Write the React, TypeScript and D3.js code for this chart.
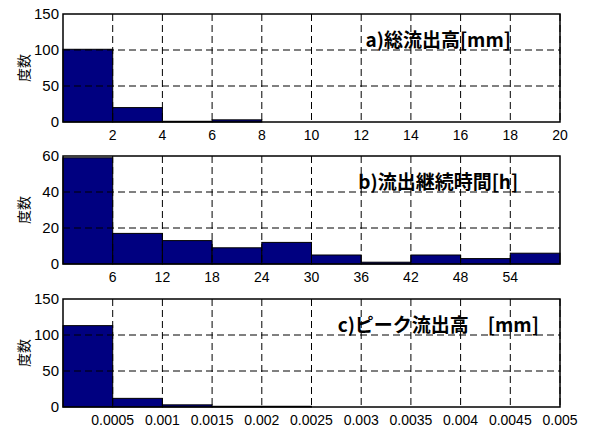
import React from "react";
import * as d3 from "d3";

// histogram counts, 10 bins each
const countsA = [101, 20, 1, 3, 0, 0, 0, 0, 0, 0];
const countsB = [59, 17, 13, 9, 12, 5, 1, 5, 3, 6];
const countsC = [113, 12, 3, 1, 1, 0, 0, 0, 0, 0];

const xTicksA = [2, 4, 6, 8, 10, 12, 14, 16, 18, 20];
const xTicksB = [6, 12, 18, 24, 30, 36, 42, 48, 54];
const xTicksC = [0.0005, 0.001, 0.0015, 0.002, 0.0025, 0.003, 0.0035, 0.004, 0.0045, 0.005];

const yTicksA = [0, 50, 100, 150];
const yTicksB = [0, 20, 40, 60];
const yTicksC = [0, 50, 100, 150];

const titleA = "a)総流出高[mm]";
const titleB = "b)流出継続時間[h]";
const titleC = "c)ピーク流出高　[mm]";
const yLabel = "度数";

const W = 592;
const H = 430;
const left = 63;
const right = 560;
const panelH = 108;

const tickFont = "'Liberation Sans', Arial, sans-serif";
const cjkFont = "'Noto Sans CJK JP', sans-serif";

type PanelProps = {
  top: number;
  counts: number[];
  binWidth: number;
  xMax: number;
  xTicks: number[];
  yTicks: number[];
  title: string;
};

const Panel = ({ top, counts, binWidth, xMax, xTicks, yTicks, title }: PanelProps) => {
  const x = d3.scaleLinear().domain([0, xMax]).range([left, right]);
  const y = d3
    .scaleLinear()
    .domain([0, yTicks[yTicks.length - 1]])
    .range([top + panelH, top]);
  const bottom = top + panelH;

  return (
    <g>
      {/* bars */}
      {counts.map((c, i) =>
        c > 0 ? (
          <rect
            key={i}
            x={x(i * binWidth)}
            y={y(c)}
            width={x((i + 1) * binWidth) - x(i * binWidth)}
            height={bottom - y(c)}
            fill="#000080"
            stroke="#000"
            strokeWidth={1}
          />
        ) : null
      )}
      {/* grid */}
      {xTicks.map((t) => (
        <line
          key={"gx" + t}
          x1={x(t)}
          x2={x(t)}
          y1={top}
          y2={bottom}
          stroke="#000"
          strokeWidth={1}
          strokeDasharray="7,4"
        />
      ))}
      {yTicks.slice(1, -1).map((t) => (
        <line
          key={"gy" + t}
          x1={left}
          x2={right}
          y1={y(t)}
          y2={y(t)}
          stroke="#000"
          strokeWidth={1}
          strokeDasharray="7,4"
        />
      ))}
      <rect x={left} y={top} width={right - left} height={panelH} fill="none" stroke="#000" strokeWidth={1.5} />
      {/* tick labels */}
      {xTicks.map((t) => (
        <text
          key={"tx" + t}
          x={x(t)}
          y={bottom + 18}
          textAnchor="middle"
          fontFamily={tickFont}
          fontSize={14}
        >
          {String(t)}
        </text>
      ))}
      {yTicks.map((t) => (
        <text
          key={"ty" + t}
          x={left - 4}
          y={y(t) + 5}
          textAnchor="end"
          fontFamily={tickFont}
          fontSize={15}
        >
          {t}
        </text>
      ))}
      <text
        transform={`translate(23,${top + panelH / 2}) rotate(-90)`}
        textAnchor="middle"
        dominantBaseline="central"
        fontFamily={cjkFont}
        fontSize={14}
      >
        {yLabel}
      </text>
      <text
        x={left + (right - left) * 0.755}
        y={top + 24}
        textAnchor="middle"
        dominantBaseline="central"
        fontFamily={cjkFont}
        fontWeight="bold"
        fontSize={19}
      >
        {title}
      </text>
    </g>
  );
};

const App = () => {
  return (
    <svg width={W} height={H} style={{ position: "absolute", left: 0, top: 0, background: "#fff" }}>
      <Panel top={14} counts={countsA} binWidth={2} xMax={20} xTicks={xTicksA} yTicks={yTicksA} title={titleA} />
      <Panel top={156} counts={countsB} binWidth={6} xMax={60} xTicks={xTicksB} yTicks={yTicksB} title={titleB} />
      <Panel top={299} counts={countsC} binWidth={0.0005} xMax={0.005} xTicks={xTicksC} yTicks={yTicksC} title={titleC} />
    </svg>
  );
};

export default App;
